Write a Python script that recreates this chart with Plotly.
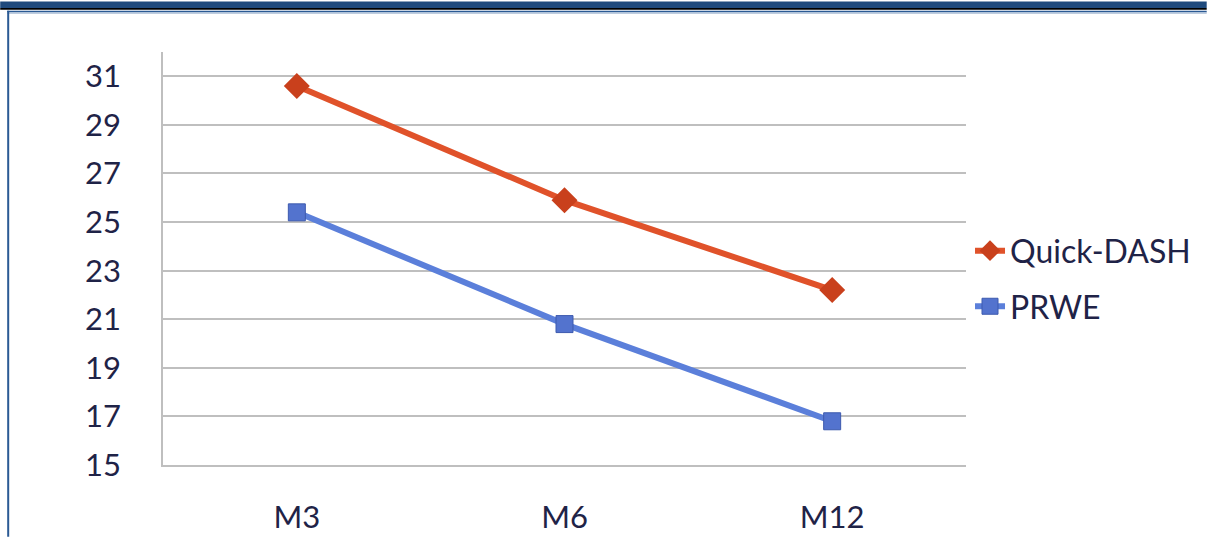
import plotly.graph_objects as go

categories = ["M3", "M6", "M12"]
quick_dash = [30.6, 25.9, 22.2]
prwe = [25.4, 20.8, 16.8]
y_ticks = [15, 17, 19, 21, 23, 25, 27, 29, 31]

W, H = 1208, 547
L, R, T, B = 163, 967, 52, 478
FONT = "Lato"
TXT = "#1F2347"

def px(x):
    return (x - L) / (R - L)

def py(y):
    return (B - y) / (B - T)

fig = go.Figure()
fig.add_trace(go.Scatter(
    x=categories, y=quick_dash, name="Quick-DASH", mode="lines+markers",
    legendgroup="a",
    line=dict(color="#E0522A", width=6),
    marker=dict(symbol="diamond", size=20, color="#C9401C", line=dict(width=0)),
))
fig.add_trace(go.Scatter(
    x=categories, y=prwe, name="PRWE", mode="lines+markers",
    legendgroup="b",
    line=dict(color="#5B7FDA", width=6),
    marker=dict(symbol="square", size=17, color="#5373CE", line=dict(width=1, color="#3D5AAE")),
))

shapes = [
    dict(type="rect", xref="paper", yref="paper", x0=px(0), x1=px(W), y0=py(0), y1=py(6.5),
         fillcolor="#1F4A7D", line=dict(width=0), layer="above"),
    dict(type="rect", xref="paper", yref="paper", x0=px(0), x1=px(W), y0=py(6.5), y1=py(8.5),
         fillcolor="#000000", line=dict(width=0), layer="above"),
    dict(type="rect", xref="paper", yref="paper", x0=px(7), x1=px(W), y0=py(9.5), y1=py(11),
         fillcolor="#2B5A94", line=dict(width=0), layer="above"),
    dict(type="rect", xref="paper", yref="paper", x0=px(7), x1=px(W), y0=py(11), y1=py(12.5),
         fillcolor="#A9BCD6", line=dict(width=0), layer="above"),
    dict(type="rect", xref="paper", yref="paper", x0=px(7), x1=px(9), y0=py(9.5), y1=py(H + 5),
         fillcolor="#2B5A94", line=dict(width=0), layer="above"),
]

fig.update_layout(
    width=W, height=H,
    margin=dict(l=L, r=W - R, t=T, b=H - B, pad=0),
    paper_bgcolor="white", plot_bgcolor="white",
    font=dict(family=FONT, size=31, color=TXT),
    showlegend=True,
    legend=dict(x=1.005, xanchor="left", y=py(286), yanchor="middle",
                font=dict(family=FONT, size=32, color=TXT),
                traceorder="grouped", tracegroupgap=11,
                itemsizing="trace", bgcolor="rgba(0,0,0,0)"),
    shapes=shapes,
)
fig.update_xaxes(
    type="category", showgrid=False, showline=True, linecolor="#BFBFBF", linewidth=1.5,
    ticks="", tickfont=dict(family=FONT, size=31, color=TXT), ticklabelstandoff=24,
    range=[-0.5, 2.5],
)
fig.update_yaxes(
    range=[15, 32], tickvals=y_ticks, showgrid=True, gridcolor="#BFBFBF", gridwidth=1.5,
    showline=True, linecolor="#BFBFBF", linewidth=1.5, ticks="", zeroline=False,
    tickfont=dict(family=FONT, size=31, color=TXT), ticklabelstandoff=34,
)

fig.write_html(
    "out.html",
    config={"displayModeBar": False},
    post_script=(
        "document.documentElement.style.margin='0';"
        "document.documentElement.style.overflow='hidden';"
        "document.body.style.margin='0';document.body.style.padding='0';"
        "document.body.style.overflow='hidden';"
    ),
)
